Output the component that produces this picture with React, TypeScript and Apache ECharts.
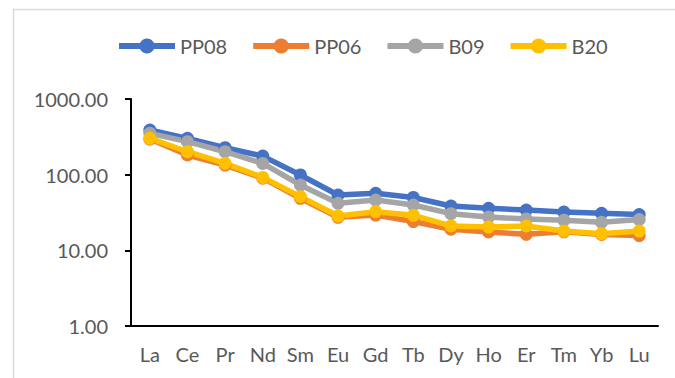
import { useEffect, useRef } from 'react';
import * as echarts from 'echarts';

const categories = ['La', 'Ce', 'Pr', 'Nd', 'Sm', 'Eu', 'Gd', 'Tb', 'Dy', 'Ho', 'Er', 'Tm', 'Yb', 'Lu'];
const seriesNames = ['PP08', 'PP06', 'B09', 'B20'];
const pp08 = [389, 302, 227, 176, 99, 53.8, 56.7, 50, 38.5, 35.9, 34, 32, 30.9, 29.7];
const pp06 = [296, 182, 134, 90, 48.7, 27.3, 29.3, 24, 19, 17.5, 16.3, 17.6, 16.2, 15.7];
const b09 = [352, 273, 201, 141, 73, 41.8, 46.2, 39.7, 30.5, 27.5, 26, 25, 23.5, 25.5];
const b20 = [302, 201, 141, 92, 51.2, 28.4, 32.4, 29, 21, 20.3, 21, 18, 16.6, 18];
const colors = ['#4472C4', '#ED7D31', '#A5A5A5', '#FFC000'];

export default function App() {
  const ref = useRef<HTMLDivElement>(null);
  useEffect(() => {
    document.body.style.margin = '0';
    const chart = echarts.init(ref.current!, null, { renderer: 'svg' });
    const data = [pp08, pp06, b09, b20];
    const font = 'Lato';
    chart.setOption({
      animation: false,
      textStyle: { fontFamily: font },
      graphic: [
        {
          type: 'rect',
          shape: { x: 13.5, y: 9.5, width: 700, height: 400 },
          style: { fill: 'none', stroke: '#d9d9d9', lineWidth: 1.5 },
          silent: true,
        },
      ],
      legend: {
        data: seriesNames,
        left: 116,
        top: 36,
        padding: 0,
        itemWidth: 56,
        itemHeight: 19,
        itemGap: 23,
        lineStyle: { width: 6 },
        textStyle: { color: '#595959', fontSize: 20, fontFamily: font },
      },
      grid: { left: 131, right: 17, top: 99, bottom: 52, containLabel: false },
      xAxis: {
        type: 'category',
        data: categories,
        boundaryGap: true,
        axisLine: { lineStyle: { color: '#000', width: 2 } },
        axisTick: { alignWithLabel: true, length: 5, lineStyle: { color: '#000', width: 2 } },
        axisLabel: { color: '#595959', fontSize: 20, fontFamily: font, margin: 18 },
        splitLine: { show: false },
      },
      yAxis: {
        type: 'log',
        logBase: 10,
        min: 1,
        max: 1000,
        axisLine: { show: true, lineStyle: { color: '#000', width: 2 } },
        axisTick: { show: true, length: 6, lineStyle: { color: '#000', width: 2 } },
        axisLabel: {
          color: '#595959',
          fontSize: 20,
          fontFamily: font,
          margin: 23,
          formatter: (v: number) => v.toFixed(2),
        },
        splitLine: { show: false },
      },
      series: seriesNames.map((name, i) => ({
        name,
        type: 'line',
        data: data[i],
        symbol: 'circle',
        symbolSize: 13,
        color: colors[i],
        lineStyle: { width: 5.5, color: colors[i] },
        itemStyle: { color: colors[i] },
        emphasis: { disabled: true },
      })),
    });
    return () => chart.dispose();
  }, []);
  return <div ref={ref} style={{ width: 675, height: 378 }} />;
}
